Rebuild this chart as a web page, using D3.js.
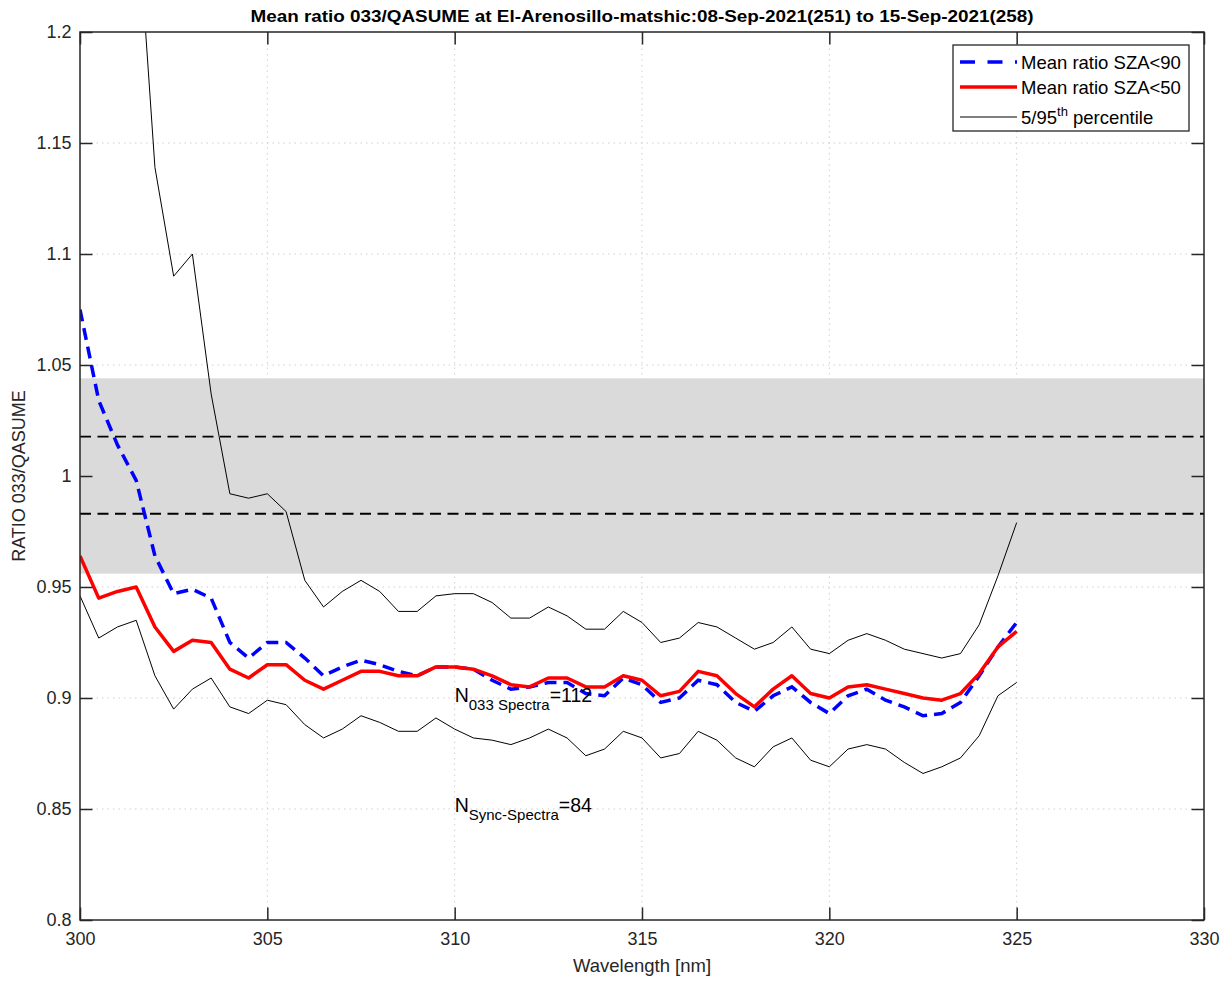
<!DOCTYPE html>
<html>
<head>
<meta charset="utf-8">
<script src="https://cdn.jsdelivr.net/npm/d3@7/dist/d3.min.js"></script>
<style>
  html, body { margin: 0; padding: 0; background: #fff; }
  svg { display: block; font-family: "Liberation Sans", Arial, Helvetica, sans-serif; }
</style>
</head>
<body>
<svg id="chart" width="1231" height="982"></svg>
<script>
// ---------------- DATA ----------------
const wavelengths = [300,300.5,301,301.5,302,302.5,303,303.5,304,304.5,305,305.5,306,306.5,307,307.5,308,308.5,309,309.5,310,310.5,311,311.5,312,312.5,313,313.5,314,314.5,315,315.5,316,316.5,317,317.5,318,318.5,319,319.5,320,320.5,321,321.5,322,322.5,323,323.5,324,324.5,325];

const meanSZA90 = [1.075,1.034,1.014,0.998,0.964,0.947,0.949,0.945,0.925,0.918,0.925,0.925,0.918,0.910,0.914,0.917,0.915,0.912,0.910,0.914,0.914,0.913,0.908,0.904,0.905,0.907,0.907,0.902,0.901,0.909,0.906,0.898,0.900,0.908,0.906,0.898,0.894,0.901,0.905,0.898,0.893,0.901,0.904,0.899,0.896,0.892,0.893,0.898,0.910,0.923,0.934];

const meanSZA50 = [0.964,0.945,0.948,0.950,0.932,0.921,0.926,0.925,0.913,0.909,0.915,0.915,0.908,0.904,0.908,0.912,0.912,0.910,0.910,0.914,0.914,0.913,0.910,0.906,0.905,0.909,0.909,0.905,0.905,0.910,0.908,0.901,0.903,0.912,0.910,0.902,0.896,0.904,0.910,0.902,0.900,0.905,0.906,0.904,0.902,0.900,0.899,0.902,0.911,0.923,0.930];

const pct95 = [1.40,1.35,1.30,1.262,1.139,1.090,1.100,1.037,0.992,0.990,0.992,0.984,0.953,0.941,0.948,0.953,0.948,0.939,0.939,0.946,0.947,0.947,0.943,0.936,0.936,0.941,0.937,0.931,0.931,0.939,0.934,0.925,0.927,0.934,0.932,0.927,0.922,0.925,0.932,0.922,0.920,0.926,0.929,0.926,0.922,0.920,0.918,0.920,0.933,0.955,0.979];

const pct5 = [0.946,0.927,0.932,0.935,0.910,0.895,0.904,0.909,0.896,0.893,0.899,0.897,0.888,0.882,0.886,0.892,0.889,0.885,0.885,0.891,0.886,0.882,0.881,0.879,0.882,0.886,0.882,0.874,0.877,0.885,0.882,0.873,0.875,0.885,0.881,0.873,0.869,0.878,0.882,0.872,0.869,0.877,0.879,0.877,0.871,0.866,0.869,0.873,0.883,0.901,0.907];

const bandLimits = [0.956, 1.044];
const dashedLimits = [0.983, 1.0177];

const xTicks = [300,305,310,315,320,325,330];
const yTicks = [0.8,0.85,0.9,0.95,1,1.05,1.1,1.15,1.2];
const yTickLabels = ["0.8","0.85","0.9","0.95","1","1.05","1.1","1.15","1.2"];

const titleText = "Mean ratio 033/QASUME at El-Arenosillo-matshic:08-Sep-2021(251) to 15-Sep-2021(258)";
const xLabel = "Wavelength [nm]";
const yLabel = "RATIO 033/QASUME";
const legendLabels = ["Mean ratio SZA<90", "Mean ratio SZA<50", "5/95"];
const nSpectra = "112";
const nSync = "84";

// ---------------- LAYOUT ----------------
const svg = d3.select("#chart");
const L = 80, R = 1204, T = 32, B = 920;
const x = d3.scaleLinear().domain([300, 330]).range([L, R]);
const y = d3.scaleLinear().domain([0.8, 1.2]).range([B, T]);
const axisColor = "#262626";
const FF = "Liberation Sans, Arial, sans-serif";

svg.append("defs").append("clipPath").attr("id", "clip")
  .append("rect").attr("x", L).attr("y", T).attr("width", R - L).attr("height", B - T);

// grid
const grid = svg.append("g");
grid.selectAll(".gx").data(xTicks.slice(1, -1)).enter().append("line")
  .attr("x1", d => x(d)).attr("x2", d => x(d)).attr("y1", T).attr("y2", B)
  .attr("stroke", "#d0d0d0").attr("stroke-width", 1).attr("stroke-dasharray", "1.5,4");
grid.selectAll(".gy").data(yTicks.slice(1, -1)).enter().append("line")
  .attr("y1", d => y(d)).attr("y2", d => y(d)).attr("x1", L).attr("x2", R)
  .attr("stroke", "#d0d0d0").attr("stroke-width", 1).attr("stroke-dasharray", "1.5,4");

const plot = svg.append("g").attr("clip-path", "url(#clip)");

// band
plot.append("rect")
  .attr("x", L).attr("width", R - L)
  .attr("y", y(bandLimits[1])).attr("height", y(bandLimits[0]) - y(bandLimits[1]))
  .attr("fill", "#dadada");

// dashed limits
plot.selectAll(".lim").data(dashedLimits).enter().append("line")
  .attr("x1", L).attr("x2", R).attr("y1", d => y(d)).attr("y2", d => y(d))
  .attr("stroke", "#000").attr("stroke-width", 1.8).attr("stroke-dasharray", "11,6.5");

const line = d3.line().x((d, i) => x(wavelengths[i])).y(d => y(d));

plot.append("path").datum(pct95).attr("d", line)
  .attr("fill", "none").attr("stroke", "#000").attr("stroke-width", 1);
plot.append("path").datum(pct5).attr("d", line)
  .attr("fill", "none").attr("stroke", "#000").attr("stroke-width", 1);
plot.append("path").datum(meanSZA90).attr("d", line)
  .attr("fill", "none").attr("stroke", "#0000ff").attr("stroke-width", 3.5)
  .attr("stroke-dasharray", "12,7");
plot.append("path").datum(meanSZA50).attr("d", line)
  .attr("fill", "none").attr("stroke", "#ff0000").attr("stroke-width", 3.5)
  .attr("stroke-linejoin", "round");

// axes box
const ax = svg.append("g");
ax.append("rect").attr("x", L).attr("y", T).attr("width", R - L).attr("height", B - T)
  .attr("fill", "none").attr("stroke", axisColor).attr("stroke-width", 1.5);

// x ticks (inward, top and bottom)
const xAxisB = d3.axisBottom(x).tickValues(xTicks).tickSize(-12.5).tickPadding(12).tickFormat(d3.format("d"));
const gxB = svg.append("g").attr("transform", `translate(0,${B})`).call(xAxisB);
gxB.select(".domain").remove();
gxB.selectAll("line").attr("stroke", axisColor).attr("stroke-width", 1.5);
gxB.selectAll("text").attr("font-size", 18).attr("fill", axisColor).attr("font-family", FF);

const xAxisT = d3.axisTop(x).tickValues(xTicks).tickSize(-12.5).tickFormat("");
const gxT = svg.append("g").attr("transform", `translate(0,${T})`).call(xAxisT);
gxT.select(".domain").remove();
gxT.selectAll("line").attr("stroke", axisColor).attr("stroke-width", 1.5);

const yAxisL = d3.axisLeft(y).tickValues(yTicks).tickSize(-12.5).tickPadding(8.5)
  .tickFormat((d, i) => yTickLabels[i]);
const gyL = svg.append("g").attr("transform", `translate(${L},0)`).call(yAxisL);
gyL.select(".domain").remove();
gyL.selectAll("line").attr("stroke", axisColor).attr("stroke-width", 1.5);
gyL.selectAll("text").attr("font-size", 18).attr("fill", axisColor).attr("font-family", FF);

const yAxisR = d3.axisRight(y).tickValues(yTicks).tickSize(-12.5).tickFormat("");
const gyR = svg.append("g").attr("transform", `translate(${R},0)`).call(yAxisR);
gyR.select(".domain").remove();
gyR.selectAll("line").attr("stroke", axisColor).attr("stroke-width", 1.5);

// title & labels
svg.append("text").attr("x", (L + R) / 2).attr("y", 22).attr("text-anchor", "middle")
  .attr("font-size", 16).attr("font-weight", "bold").attr("fill", "#000")
  .attr("textLength", 783).attr("lengthAdjust", "spacingAndGlyphs")
  .text(titleText);
svg.append("text").attr("x", (L + R) / 2).attr("y", 972).attr("text-anchor", "middle")
  .attr("font-size", 18.5).attr("fill", axisColor).text(xLabel);
svg.append("text").attr("transform", `translate(25,${(T + B) / 2}) rotate(-90)`)
  .attr("text-anchor", "middle").attr("font-size", 18).attr("fill", axisColor).text(yLabel);

// annotations
function nLabel(xp, yp, sub, val) {
  const t = svg.append("text").attr("x", xp).attr("y", yp).attr("font-size", 19.5).attr("fill", "#000");
  t.append("tspan").text("N");
  t.append("tspan").attr("font-size", 15).attr("dy", 8).text(sub);
  t.append("tspan").attr("dy", -8).text("=" + val);
}
nLabel(x(310), 702, "033 Spectra", nSpectra);
nLabel(x(310), 812, "Sync-Spectra", nSync);

// legend
const lg = svg.append("g");
lg.append("rect").attr("x", 953).attr("y", 45).attr("width", 236).attr("height", 86)
  .attr("fill", "#fff").attr("stroke", axisColor).attr("stroke-width", 1.3);
const rows = [62, 87, 117];
lg.append("line").attr("x1", 960).attr("x2", 1017).attr("y1", rows[0]).attr("y2", rows[0])
  .attr("stroke", "#0000ff").attr("stroke-width", 3.5).attr("stroke-dasharray", "15,12.5");
lg.append("line").attr("x1", 960).attr("x2", 1017).attr("y1", rows[1]).attr("y2", rows[1])
  .attr("stroke", "#ff0000").attr("stroke-width", 3.5);
lg.append("line").attr("x1", 960).attr("x2", 1017).attr("y1", rows[2]).attr("y2", rows[2])
  .attr("stroke", "#000").attr("stroke-width", 1);
lg.append("text").attr("x", 1021).attr("y", rows[0] + 6.5).attr("font-size", 18.5).text(legendLabels[0]);
lg.append("text").attr("x", 1021).attr("y", rows[1] + 6.5).attr("font-size", 18.5).text(legendLabels[1]);
const t3 = lg.append("text").attr("x", 1021).attr("y", rows[2] + 6.5).attr("font-size", 18.5);
t3.append("tspan").text(legendLabels[2]);
t3.append("tspan").attr("font-size", 13).attr("dy", -8).text("th");
t3.append("tspan").attr("dy", 8).text(" percentile");
</script>
</body>
</html>
